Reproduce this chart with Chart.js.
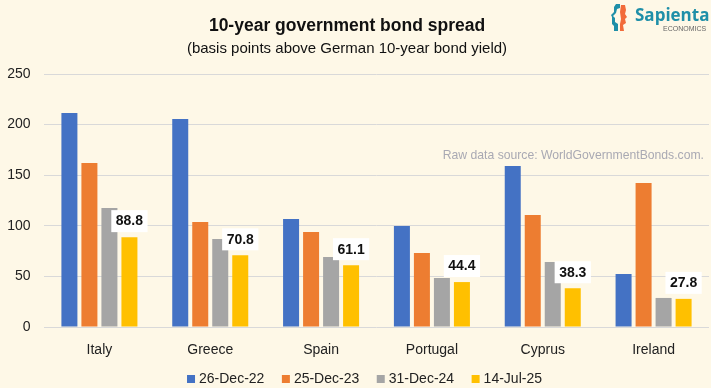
<!DOCTYPE html>
<html>
<head>
<meta charset="utf-8">
<script src="https://cdn.jsdelivr.net/npm/chart.js@4.4.1/dist/chart.umd.min.js"></script>
<style>
  html, body { margin: 0; padding: 0; background: #FEF8E7; }
  #wrap { width: 711px; height: 388px; }
</style>
</head>
<body>
<div id="wrap"><canvas id="c" width="711" height="388"></canvas></div>
<script>
const categories = ["Italy", "Greece", "Spain", "Portugal", "Cyprus", "Ireland"];
const seriesNames = ["26-Dec-22", "25-Dec-23", "31-Dec-24", "14-Jul-25"];
const dec22 = [211.5, 205.5, 106.7, 99.8, 159.0, 52.4];
const dec23 = [162.0, 103.8, 93.9, 73.1, 110.7, 142.3];
const dec24 = [117.6, 87.0, 69.2, 48.4, 64.2, 28.7];
const jul25 = [88.8, 70.8, 61.1, 44.4, 38.3, 27.8];
const yTicks = [0, 50, 100, 150, 200, 250];
const colors = ["#4472C4", "#ED7D31", "#A5A5A5", "#FFC000"];

const titleText = "10-year government bond spread";
const subtitleText = "(basis points above German 10-year bond yield)";
const sourceText = "Raw data source: WorldGovernmentBonds.com.";

const FONT = "'Liberation Sans', Arial, sans-serif";

const decor = {
  id: "decor",
  beforeDraw(chart) {
    const ctx = chart.ctx;
    ctx.save();
    ctx.fillStyle = "#FEF8E7";
    ctx.fillRect(0, 0, chart.width, chart.height);
    ctx.restore();
  },
  afterDatasetsDraw(chart) {
    const ctx = chart.ctx;
    const meta = chart.getDatasetMeta(3);
    ctx.save();
    ctx.font = "bold 14px " + FONT;
    ctx.textAlign = "center";
    ctx.textBaseline = "middle";
    meta.data.forEach((bar, i) => {
      const txt = jul25[i].toFixed(1);
      const w = ctx.measureText(txt).width + 9;
      const h = 22;
      const bx = bar.x - w / 2;
      const by = bar.y - 5 - h;
      ctx.fillStyle = "#FFFFFF";
      ctx.fillRect(bx, by, w, h);
      ctx.fillStyle = "#111111";
      ctx.fillText(txt, bar.x, by + h / 2 + 0.5);
    });
    ctx.restore();
  },
  afterDraw(chart) {
    const ctx = chart.ctx;
    ctx.save();
    // title + subtitle
    ctx.textAlign = "center";
    ctx.textBaseline = "alphabetic";
    ctx.fillStyle = "#111111";
    ctx.font = "bold 17.5px " + FONT;
    ctx.fillText(titleText, 347, 31);
    ctx.font = "15px " + FONT;
    ctx.fillText(subtitleText, 347, 53);
    // source note
    ctx.textAlign = "right";
    ctx.fillStyle = "#A9A9B3";
    ctx.font = "12.2px " + FONT;
    ctx.fillText(sourceText, 704, 159);
    // logo
    ctx.fillStyle = "#1F8FA8";
    ctx.beginPath();
    [[616,4],[620,4],[620,8],[617,9],[616,13],[613,16],[615,18],[615,22],[618,24],[618,31],[614,31],[614,26],[612,24],[612,17],[611,15],[614,12],[614,7]].forEach((p, k) => k ? ctx.lineTo(p[0], p[1]) : ctx.moveTo(p[0], p[1]));
    ctx.closePath(); ctx.fill();
    ctx.fillStyle = "#F26B3A";
    ctx.beginPath();
    [[621,5],[625,5],[626,10],[625,14],[627,17],[625,19],[626,23],[623,25],[624,31],[620,31],[620,24],[621,19],[620,12]].forEach((p, k) => k ? ctx.lineTo(p[0], p[1]) : ctx.moveTo(p[0], p[1]));
    ctx.closePath(); ctx.fill();
    ctx.textAlign = "left";
    ctx.fillStyle = "#1F8FA8";
    ctx.font = "bold 17px 'Open Sans', " + FONT;
    ctx.fillText("Sapienta", 635, 21);
    ctx.fillStyle = "#666666";
    ctx.font = "7px " + FONT;
    ctx.fillText("ECONOMICS", 663, 31);
    // legend
    ctx.font = "14px " + FONT;
    ctx.textBaseline = "middle";
    const box = 8, gapT = 4, gapI = 17.5;
    const widths = seriesNames.map(n => box + gapT + ctx.measureText(n).width);
    const total = widths.reduce((a, b) => a + b, 0) + gapI * (widths.length - 1);
    let x = 364.5 - total / 2;
    const cy = 379;
    seriesNames.forEach((n, i) => {
      ctx.fillStyle = colors[i];
      ctx.fillRect(x, cy - box / 2, box, box);
      ctx.fillStyle = "#222222";
      ctx.fillText(n, x + box + gapT, cy + 0.5);
      x += widths[i] + gapI;
    });
    ctx.restore();
  }
};

const datasets = [dec22, dec23, dec24, jul25].map((vals, i) => ({
  label: seriesNames[i],
  data: vals,
  backgroundColor: colors[i],
  borderWidth: 0,
  categoryPercentage: 0.722,
  barPercentage: 0.8
}));

new Chart(document.getElementById("c"), {
  type: "bar",
  data: { labels: categories, datasets },
  options: {
    responsive: false,
    animation: false,
    devicePixelRatio: 1,
    layout: { padding: { top: 74, right: 2, left: 0, bottom: 0 } },
    plugins: {
      legend: { display: false },
      title: { display: false },
      tooltip: { enabled: false }
    },
    scales: {
      x: {
        grid: { display: false, drawTicks: false },
        border: { display: false },
        ticks: { color: "#222222", font: { family: FONT, size: 14 }, padding: 15 },
        afterFit(s) { s.height = 61; }
      },
      y: {
        min: 0,
        max: 250,
        afterBuildTicks(s) { s.ticks = yTicks.map(v => ({ value: v })); },
        grid: { color: "#D9D9D9", lineWidth: 1, drawTicks: false },
        border: { display: false },
        ticks: { color: "#222222", font: { family: FONT, size: 14 }, padding: 13.5 },
        afterFit(s) { s.width = 44; }
      }
    }
  },
  plugins: [decor]
});
</script>
</body>
</html>
